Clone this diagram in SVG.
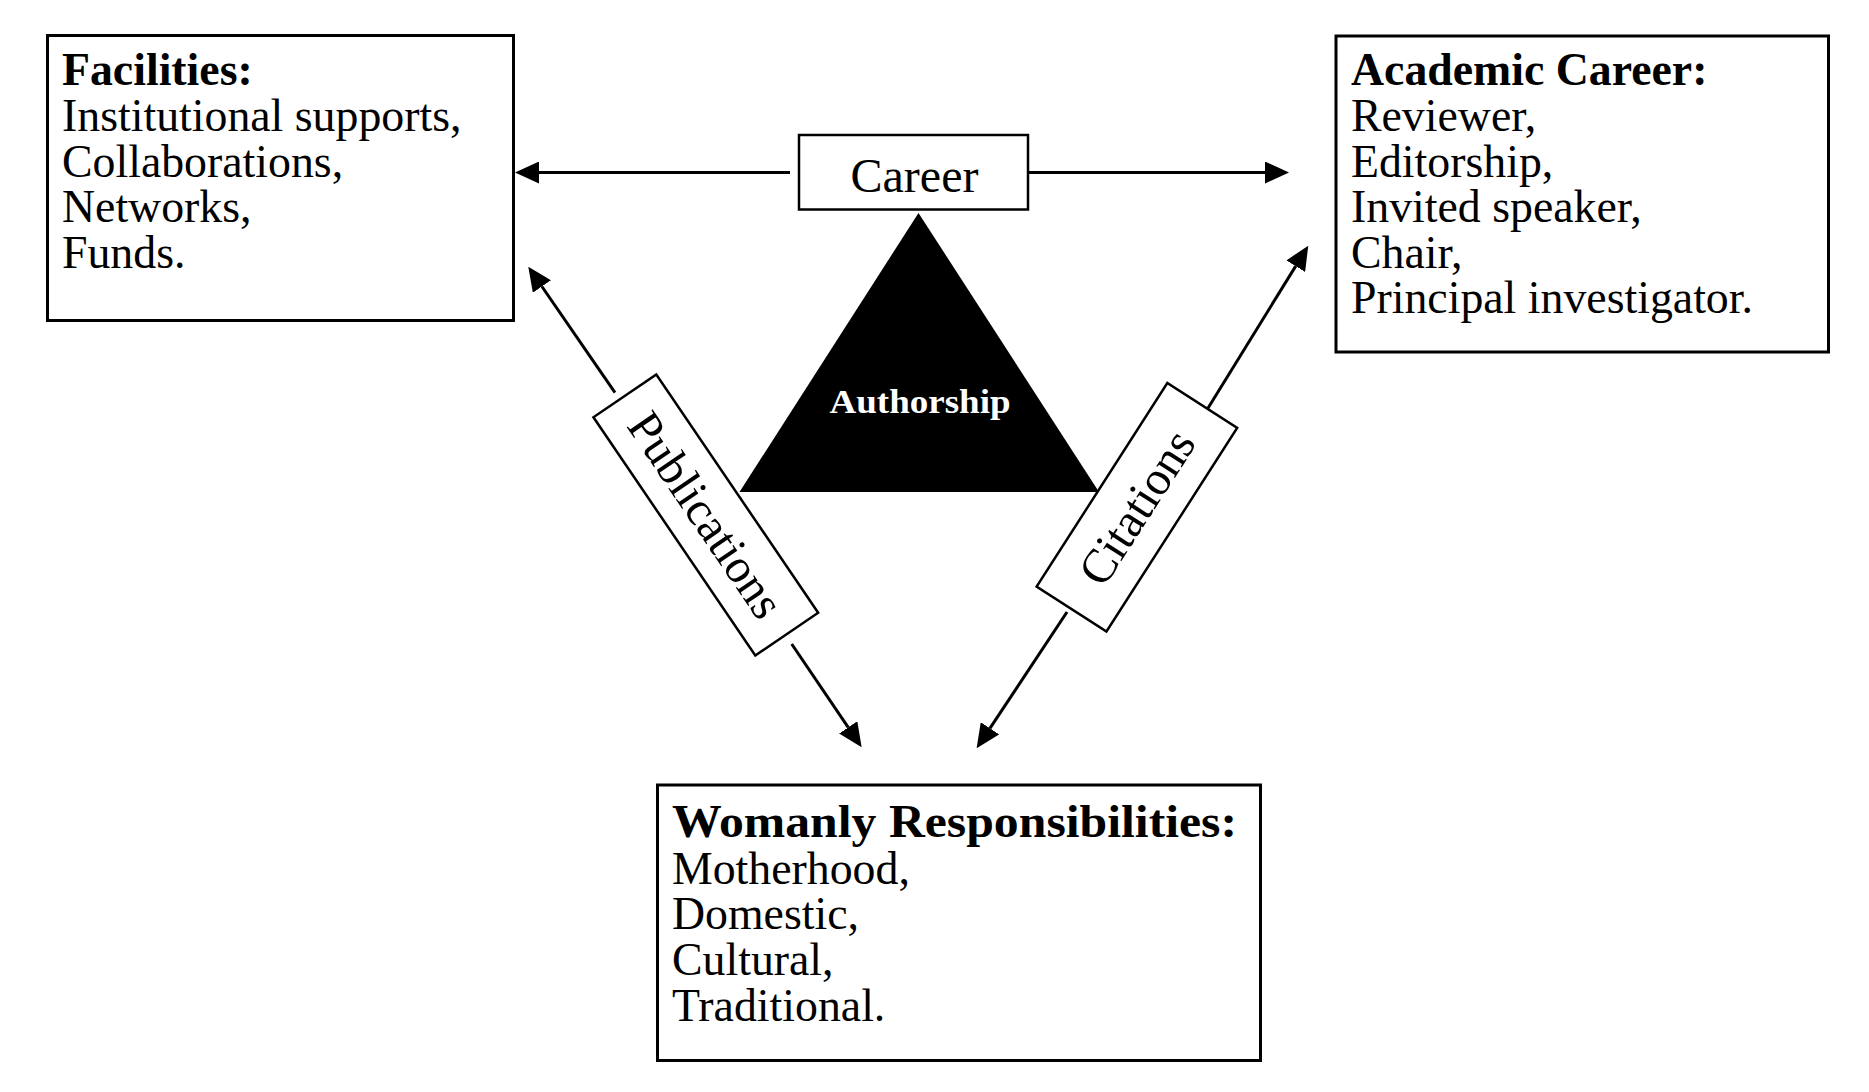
<svg xmlns="http://www.w3.org/2000/svg" width="1869" height="1092" viewBox="0 0 1869 1092">
<style>
.box{fill:#fff;stroke:#000;stroke-width:3}
.lbl{fill:#fff;stroke:#000;stroke-width:2.5}
.t{font-family:"Liberation Serif","Times New Roman",serif;font-size:45.8px;fill:#000}
.b{font-weight:bold}
.c{font-family:"Liberation Serif","Times New Roman",serif;font-size:48px;fill:#000}
.con{stroke:#000;stroke-width:3;fill:none;marker-end:url(#ah)}
</style>
<defs>
<marker id="ah" viewBox="0 0 24 22" markerWidth="24" markerHeight="22" refX="0" refY="11" orient="auto" markerUnits="userSpaceOnUse">
<path d="M0,0 L24,11 L0,22 z" fill="#000"/>
</marker>
</defs>
<rect width="1869" height="1092" fill="#fff"/>
<g id="connectors">
<line class="con" x1="790" y1="172.5" x2="539" y2="172.5"/>
<line class="con" x1="1028" y1="172.5" x2="1265" y2="172.5"/>
<line class="con" x1="615" y1="392.7" x2="541.9" y2="286.5"/>
<line class="con" x1="791.7" y1="644" x2="848.2" y2="727.4"/>
<line class="con" x1="1205" y1="413" x2="1295.7" y2="266.1"/>
<line class="con" x1="1067" y1="612" x2="989.9" y2="728.3"/>
</g>
<g id="facilities">
<rect class="box" x="47.5" y="35.5" width="466" height="285"/>
<text class="t b" x="62" y="85">Facilities:</text>
<text class="t" x="62" y="131">Institutional supports,</text>
<text class="t" x="62" y="177">Collaborations,</text>
<text class="t" x="62" y="222">Networks,</text>
<text class="t" x="62" y="268">Funds.</text>
</g>
<g id="academic-career">
<rect class="box" x="1336" y="36" width="492.5" height="316"/>
<text class="t b" x="1351" y="85">Academic Career:</text>
<text class="t" x="1351" y="131">Reviewer,</text>
<text class="t" x="1351" y="177">Editorship,</text>
<text class="t" x="1351" y="222">Invited speaker,</text>
<text class="t" x="1351" y="268">Chair,</text>
<text class="t" x="1351" y="313">Principal investigator.</text>
</g>
<g id="womanly-responsibilities">
<rect class="box" x="657.5" y="785" width="603" height="275.5"/>
<text class="t b" x="672" y="837" textLength="565" lengthAdjust="spacingAndGlyphs">Womanly Responsibilities:</text>
<text class="t" x="672" y="884">Motherhood,</text>
<text class="t" x="672" y="929">Domestic,</text>
<text class="t" x="672" y="975">Cultural,</text>
<text class="t" x="672" y="1021">Traditional.</text>
</g>
<g id="career">
<rect class="lbl" x="799" y="135" width="229" height="74.5"/>
<text class="c" x="914.5" y="192" text-anchor="middle" font-size="50">Career</text>
</g>
<g id="authorship">
<polygon points="918.5,213 739.5,492 1099,492" fill="#000"/>
<text x="920" y="413" text-anchor="middle" font-family="'Liberation Serif','Times New Roman',serif" font-weight="bold" font-size="34" fill="#fff" textLength="181" lengthAdjust="spacingAndGlyphs">Authorship</text>
</g>
<g id="publications" transform="translate(705.8,515) rotate(55.8)">
<rect class="lbl" x="-144" y="-38" width="288" height="76"/>
<text class="c" x="0" y="16" text-anchor="middle">Publications</text>
</g>
<g id="citations" transform="translate(1136.9,507.3) rotate(-57.3)">
<rect class="lbl" x="-121" y="-41.5" width="242" height="83"/>
<text class="c" x="0" y="16" text-anchor="middle">Citations</text>
</g>
</svg>
